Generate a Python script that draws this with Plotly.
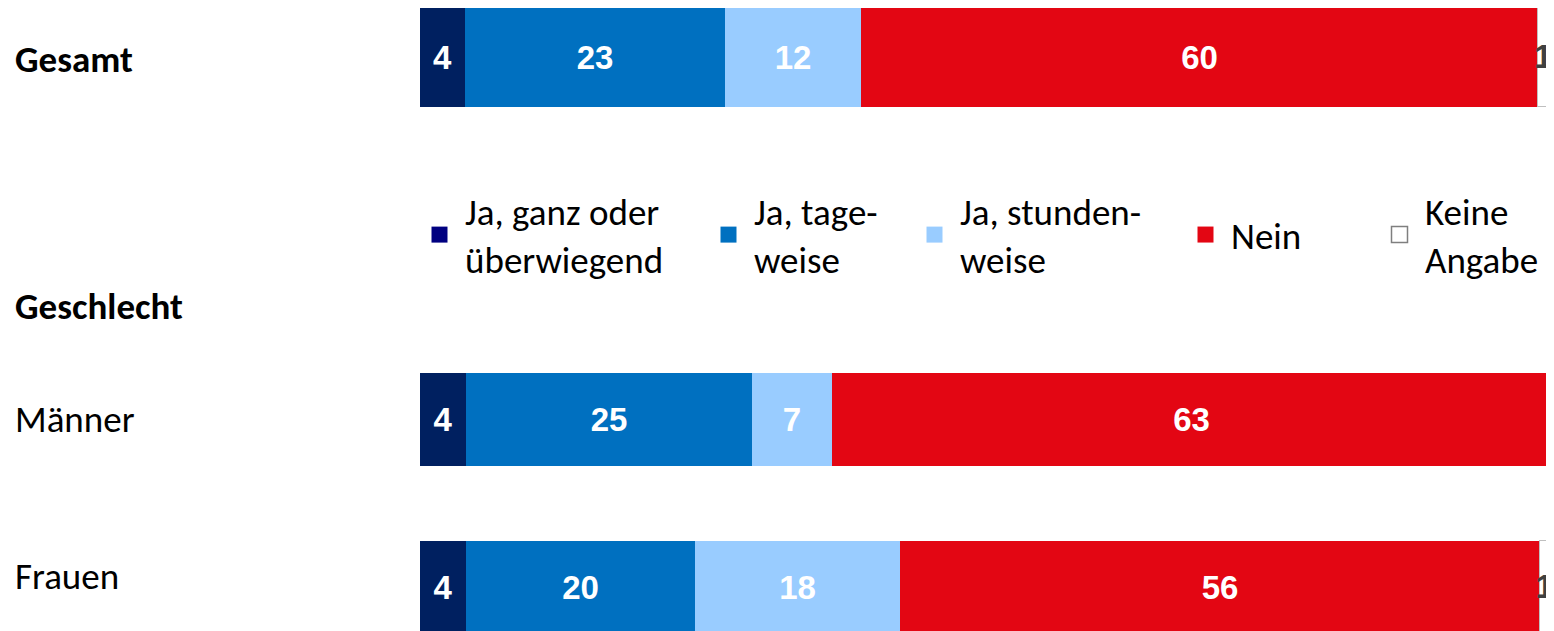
import plotly.graph_objects as go

# ---------------- data ----------------
groups = ["Gesamt", "Männer", "Frauen"]
section_label = "Geschlecht"

series_names = [
    "Ja, ganz oder<br>überwiegend",
    "Ja, tage-<br>weise",
    "Ja, stunden-<br>weise",
    "Nein",
    "Keine<br>Angabe",
]

ganz = [4.0, 4.1, 4.1]
tage = [23.0, 25.3, 20.2]
stunden = [12.0, 7.1, 18.2]
nein = [59.9, 63.6, 56.6]
keine = [1.1, 1.0, 1.0]

ganz_lbl = ["4", "4", "4"]
tage_lbl = ["23", "25", "20"]
stunden_lbl = ["12", "7", "18"]
nein_lbl = ["60", "63", "56"]
keine_lbl = ["1", "1", "1"]

# ---------------- styling ----------------
bar_colors = ["#002060", "#0070C0", "#99CCFF", "#E30613", "#FFFFFF"]
legend_colors = ["#000080", "#0070C0", "#99CCFF", "#E30613", "#FFFFFF"]
text_colors = ["#FFFFFF", "#FFFFFF", "#FFFFFF", "#FFFFFF", "#404040"]
LABEL_FONT = "Calibri, Carlito, Lato, sans-serif"
NUM_FONT = "Arial, Liberation Sans, sans-serif"
LABEL_SIZE = 37

values = [ganz, tage, stunden, nein, keine]
labels = [ganz_lbl, tage_lbl, stunden_lbl, nein_lbl, keine_lbl]

# page has an 8px body margin: figure fills the window from (8, 8)
OFF = 8
W, H = 1554 - OFF, 631 - OFF


def px_x(p):
    return (p - OFF) / W


def px_y(p):
    return 1 - (p - OFF) / H


fig = go.Figure()

subsets = [
    (slice(0, 1), "x", "y", 1.0),
    (slice(1, 3), "x2", "y2", 0.554),
]

for i in range(5):
    is_ka = i == 4
    for sl, xa, ya, bw in subsets:
        fig.add_trace(go.Bar(
            x=values[i][sl],
            y=groups[sl],
            orientation="h",
            width=bw,
            marker=dict(color=bar_colors[i],
                        line=dict(color="#BFBFBF" if is_ka else bar_colors[i],
                                  width=1.5 if is_ka else 0)),
            text=labels[i][sl],
            textposition="inside",
            insidetextanchor="middle",
            textangle=0,
            constraintext="none",
            textfont=dict(family=NUM_FONT, size=33, color=text_colors[i], weight="bold"),
            showlegend=False,
            hoverinfo="skip",
            xaxis=xa, yaxis=ya,
        ))

# legend-only entries, one legend per item
legend_names = ["legend", "legend2", "legend3", "legend4", "legend5"]
legend_text_left = [465, 754, 960, 1231, 1425]
ITEMW = 41
TEXTGAP = ITEMW + 10
for i in range(5):
    is_ka = i == 4
    fig.add_trace(go.Scatter(
        x=[None], y=[None], mode="markers",
        name=series_names[i],
        marker=dict(symbol="square", size=16, color=legend_colors[i],
                    line=dict(color="#7F7F7F" if is_ka else legend_colors[i],
                              width=1.5 if is_ka else 0)),
        legend=legend_names[i],
        showlegend=True,
        xaxis="x", yaxis="y",
    ))

legend_layout = {}
for i, ln in enumerate(legend_names):
    legend_layout[ln] = dict(
        x=px_x(legend_text_left[i] - TEXTGAP), xanchor="left",
        y=px_y(235), yanchor="middle",
        itemwidth=ITEMW,
        bgcolor="rgba(0,0,0,0)", borderwidth=0,
        font=dict(family=LABEL_FONT, size=LABEL_SIZE, color="#000000"),
        itemclick=False, itemdoubleclick=False,
    )

axis_common = dict(showgrid=False, zeroline=False, showticklabels=False,
                   showline=False, ticks="", fixedrange=True)

fig.update_layout(
    width=W, height=H,
    margin=dict(l=0, r=0, t=0, b=0, autoexpand=False),
    paper_bgcolor="white", plot_bgcolor="white",
    barmode="stack", bargap=0,
    xaxis=dict(domain=[px_x(420), 1], range=[0, 100.35], **axis_common),
    xaxis2=dict(domain=[px_x(420), 1], range=[0, 100.35], anchor="y2", **axis_common),
    yaxis=dict(domain=[px_y(107), px_y(8)], type="category",
               range=[-0.5, 0.5], anchor="x", **axis_common),
    yaxis2=dict(domain=[0, px_y(340)], type="category",
                categoryorder="array", categoryarray=groups[1:],
                range=[1.259, -0.473], anchor="x2", **axis_common),
    showlegend=True,
    **legend_layout,
)

# row labels
lab_font = dict(family=LABEL_FONT, size=LABEL_SIZE, color="#000000")
fig.add_annotation(text="<b>" + groups[0] + "</b>", xref="paper", x=px_x(13), xanchor="left",
                   yref="y", y=groups[0], yanchor="middle", yshift=-2, showarrow=False,
                   font=lab_font)
fig.add_annotation(text="<b>" + section_label + "</b>", xref="paper", x=px_x(13), xanchor="left",
                   yref="paper", y=px_y(306), yanchor="middle", showarrow=False,
                   font=lab_font)
fig.add_annotation(text=groups[1], xref="paper", x=px_x(13), xanchor="left",
                   yref="y2", y=groups[1], yanchor="middle", showarrow=False,
                   font=lab_font)
fig.add_annotation(text=groups[2], xref="paper", x=px_x(13), xanchor="left",
                   yref="y2", y=groups[2], yanchor="middle", yshift=11, showarrow=False,
                   font=lab_font)

fig.write_html("out.html")
